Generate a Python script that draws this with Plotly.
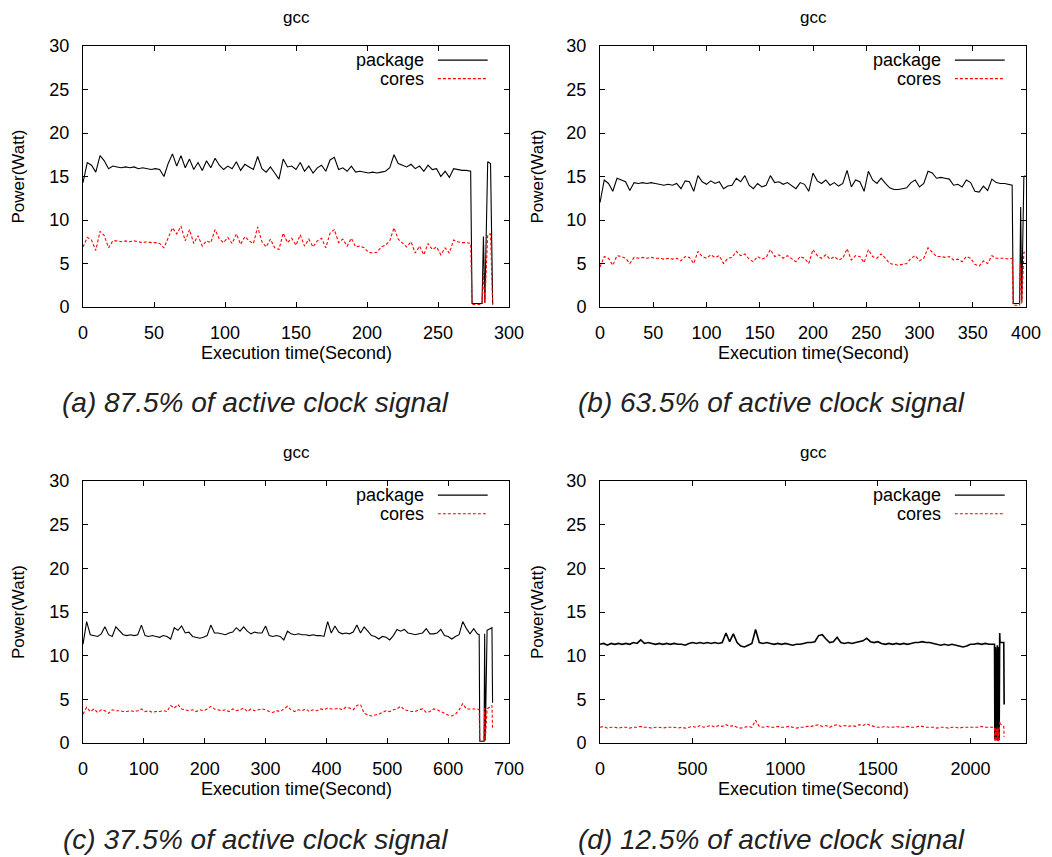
import plotly.graph_objects as go

# ---------------- measured power traces (Watt) ----------------
# (a) 87.5% active clock signal: one sample every 3 s from 0 s to 270 s
PKG_A = [
    14.3, 16.6, 16.3, 15.5, 17.4, 16.8, 15.9, 16.2, 16.1, 16.0,
    16.1, 16.0, 16.1, 15.9, 16.0, 15.9, 15.8, 15.9, 15.8, 15.0,
    16.5, 17.6, 16.2, 17.4, 16.0, 17.0, 15.8, 16.6, 15.7, 16.8,
    16.0, 17.1, 16.3, 15.8, 16.2, 15.9, 16.7, 15.7, 16.4, 16.1,
    15.8, 17.3, 15.9, 15.5, 16.1, 15.4, 14.7, 17.0, 16.1, 16.2,
    15.8, 16.6, 15.6, 16.2, 15.4, 16.0, 16.3, 15.6, 16.9, 17.2,
    15.8, 16.0, 15.6, 16.2, 15.5, 15.6, 15.5, 15.4, 15.5, 15.4,
    15.5, 15.6, 16.0, 17.5, 16.5, 16.3, 16.1, 16.4, 15.9, 16.2,
    15.6, 16.3, 15.8, 15.9, 15.0, 15.6, 14.9, 15.9, 15.8, 15.7,
    15.7,
]
CORES_A = [
    6.9, 8.0, 7.7, 6.5, 8.7, 8.2, 6.8, 7.6, 7.6, 7.5,
    7.6, 7.5, 7.6, 7.5, 7.4, 7.5, 7.4, 7.4, 7.3, 6.8,
    8.0, 9.1, 8.4, 9.3, 7.6, 8.9, 7.3, 8.2, 7.0, 7.6,
    7.4, 8.9, 7.8, 7.4, 8.0, 7.3, 8.4, 7.2, 8.1, 7.6,
    7.3, 9.2, 7.5, 6.9, 7.8, 6.8, 6.6, 8.5, 7.4, 7.9,
    7.1, 8.3, 7.0, 7.8, 6.9, 7.6, 7.9, 6.8, 8.5, 8.9,
    7.4, 7.8, 7.0, 7.9, 6.9, 7.0, 6.8, 6.3, 6.2, 6.3,
    6.9, 7.1, 7.6, 9.1, 7.8, 7.4, 6.9, 7.5, 6.2, 7.0,
    6.0, 7.3, 6.6, 6.9, 6.0, 6.8, 6.2, 7.7, 7.5, 7.4,
    7.4,
]
END_T_A = [273, 274, 281, 282, 283, 285, 287, 288.5]
END_PKG_A = [15.6, 0.4, 0.4, 8.1, 0.5, 16.7, 16.5, 0.3]
END_CORES_A = [7.3, 0.3, 0.3, 3.9, 0.5, 8.3, 8.4, 0.3]

# (b) 63.5% active clock signal: one sample every 4 s from 0 s to 384 s
PKG_B = [
    12.0, 14.6, 14.2, 13.3, 14.8, 14.6, 14.4, 13.4, 14.3, 14.2,
    14.3, 14.2, 14.3, 14.2, 14.1, 14.0, 14.1, 14.0, 14.2, 13.6,
    14.5, 14.4, 13.3, 15.1, 14.4, 14.1, 14.5, 14.2, 14.4, 13.6,
    13.9, 14.0, 14.8, 14.4, 15.1, 14.0, 13.6, 14.2, 13.8, 14.0,
    15.1, 14.3, 14.4, 14.1, 14.3, 14.0, 13.6, 14.3, 14.1, 13.3,
    15.4, 14.5, 14.2, 14.6, 14.0, 14.3, 13.9, 14.2, 15.7, 13.8,
    14.6, 14.4, 13.3, 15.6, 14.6, 14.2, 14.8, 14.2, 13.7, 13.5,
    13.5, 13.6, 13.7, 14.3, 14.6, 13.8, 14.2, 15.6, 15.4, 14.8,
    14.9, 14.8, 14.7, 14.0, 14.1, 13.8, 14.6, 14.3, 13.3, 13.2,
    13.9, 13.4, 14.7, 14.3, 14.2, 14.2, 14.1,
]
CORES_B = [
    4.6, 5.8, 5.6, 4.8, 5.9, 5.8, 5.6, 5.0, 5.7, 5.6,
    5.7, 5.6, 5.7, 5.6, 5.6, 5.5, 5.6, 5.5, 5.6, 5.3,
    5.8, 5.7, 5.0, 6.4, 5.8, 5.6, 6.0, 5.7, 5.9, 5.0,
    5.6, 5.7, 6.4, 5.9, 6.1, 5.5, 5.2, 5.8, 5.5, 5.7,
    6.6, 5.8, 6.0, 5.6, 5.9, 5.5, 5.2, 5.8, 5.6, 5.0,
    6.6, 5.9, 5.6, 6.0, 5.5, 5.8, 5.4, 5.6, 6.7, 5.4,
    5.9, 5.8, 5.1, 6.6, 5.8, 5.6, 6.1, 5.6, 5.0, 4.9,
    4.8, 4.9, 5.0, 5.6, 5.9, 5.3, 5.6, 6.8, 6.3, 5.8,
    5.8, 5.7, 5.8, 5.4, 5.5, 5.2, 5.8, 5.6, 4.9, 4.7,
    5.3, 5.0, 5.9, 5.6, 5.6, 5.6, 5.5,
]
END_T_B = [387, 388, 394, 395, 396, 398, 399.5]
END_PKG_B = [14.0, 0.4, 0.4, 11.5, 0.6, 15.0, 15.1]
END_CORES_B = [5.6, 0.2, 0.2, 4.9, 0.4, 6.3, 6.3]

# (c) 37.5% active clock signal: one sample every 6 s from 0 s to 648 s
PKG_C = [
    11.3, 13.9, 12.4, 12.3, 12.2, 12.5, 13.3, 12.4, 12.2, 13.3,
    12.9, 12.4, 12.3, 12.4, 12.3, 12.4, 13.5, 12.3, 12.2, 12.3,
    12.2, 12.1, 12.3, 12.2, 11.9, 13.2, 12.9, 13.4, 12.6, 12.7,
    12.2, 12.1, 12.0, 12.1, 12.3, 13.5, 12.6, 12.6, 12.5, 12.4,
    12.6, 12.7, 13.2, 12.8, 13.3, 12.8, 12.5, 12.7, 12.6, 12.6,
    13.4, 12.3, 12.2, 12.3, 12.2, 11.8, 12.8, 12.5, 12.4, 12.5,
    12.4, 12.4, 12.3, 12.4, 12.3, 12.3, 12.2, 13.9, 12.6, 13.4,
    12.7, 12.5, 12.6, 12.5, 12.7, 13.5, 12.6, 13.3, 12.8, 12.3,
    12.2, 11.9, 12.2, 12.1, 11.8, 12.3, 13.0, 12.8, 13.0, 12.6,
    12.5, 12.4, 12.5, 12.6, 13.1, 12.5, 12.5, 12.6, 13.0, 12.3,
    12.2, 11.9, 12.2, 12.4, 13.9, 13.1, 12.5, 13.1, 12.5,
]
CORES_C = [
    3.3, 4.1, 3.6, 3.9, 3.5, 3.8, 3.7, 3.4, 3.8, 3.7,
    3.7, 3.6, 3.6, 3.7, 3.6, 3.7, 3.9, 3.6, 3.7, 3.5,
    3.6, 3.6, 3.7, 3.6, 4.3, 4.0, 4.4, 3.9, 3.8, 3.7,
    3.8, 3.6, 3.8, 3.7, 3.9, 4.2, 3.9, 3.8, 3.7, 3.8,
    3.6, 3.9, 3.7, 3.8, 4.0, 3.6, 3.9, 3.7, 3.8, 3.9,
    3.8, 3.6, 3.5, 3.7, 3.6, 3.9, 4.2, 3.8, 3.6, 3.8,
    3.7, 3.9, 3.6, 3.8, 3.7, 3.9, 3.8, 4.0, 3.9, 3.9,
    4.0, 3.8, 4.1, 4.0, 3.8, 4.3, 4.4, 3.4, 3.2, 3.1,
    3.2, 3.3, 3.5, 3.7, 3.6, 3.8, 3.9, 4.2, 3.8, 3.7,
    3.6, 3.6, 3.8, 3.9, 3.5, 3.6, 3.9, 3.8, 3.6, 3.4,
    3.2, 3.1, 3.3, 3.8, 4.5, 3.9, 3.9, 3.9, 3.9,
]
END_T_C = [651, 652, 659, 660, 661, 664, 672, 673]
END_PKG_C = [12.4, 0.2, 0.2, 12.5, 0.3, 12.9, 13.2, 4.6]
END_CORES_C = [3.8, 0.2, 0.2, 4.0, 0.3, 3.9, 4.3, 1.5]

# (d) 12.5% active clock signal: one sample every 20 s from 0 s to 2120 s
PKG_D = [
    11.3, 11.4, 11.2, 11.4, 11.3, 11.4, 11.3, 11.4, 11.3, 11.5,
    11.4, 11.8, 11.4, 11.5, 11.4, 11.3, 11.4, 11.3, 11.4, 11.3,
    11.4, 11.3, 11.3, 11.2, 11.4, 11.5, 11.4, 11.5, 11.4, 11.5,
    11.4, 11.5, 11.4, 11.5, 12.6, 11.6, 12.5, 11.5, 11.1, 11.0,
    11.2, 11.4, 13.0, 11.5, 11.4, 11.5, 11.4, 11.3, 11.4, 11.3,
    11.4, 11.3, 11.2, 11.3, 11.3, 11.4, 11.5, 11.5, 11.6, 12.3,
    12.4, 11.9, 11.5, 11.6, 12.1, 11.5, 11.4, 11.5, 11.4, 11.5,
    11.6, 11.7, 12.0, 11.6, 11.5, 11.6, 11.4, 11.3, 11.4, 11.3,
    11.4, 11.3, 11.4, 11.3, 11.4, 11.5, 11.5, 11.6, 11.5, 11.5,
    11.4, 11.3, 11.2, 11.3, 11.2, 11.3, 11.2, 11.1, 11.0, 11.1,
    11.3, 11.3, 11.4, 11.3, 11.4, 11.3, 11.3,
]
CORES_D = [
    1.8, 1.9, 1.7, 1.8, 1.8, 1.7, 1.8, 1.8, 1.7, 1.8,
    1.8, 1.9, 1.8, 1.8, 1.7, 1.8, 1.8, 1.7, 1.8, 1.8,
    1.8, 1.7, 1.8, 1.7, 1.8, 1.9, 1.8, 2.0, 1.8, 1.9,
    2.0, 1.8, 2.0, 1.9, 2.1, 1.9, 2.0, 1.8, 1.7, 1.8,
    1.9, 1.8, 2.6, 1.9, 1.8, 1.9, 1.8, 1.8, 1.9, 1.8,
    1.8, 1.9, 1.8, 1.7, 1.8, 1.8, 1.9, 1.9, 2.0, 2.1,
    1.9, 2.0, 1.8, 2.0, 2.1, 1.9, 2.0, 1.9, 2.0, 1.9,
    2.1, 2.0, 2.2, 2.0, 1.9, 1.8, 1.8, 1.9, 1.8, 1.8,
    1.9, 1.8, 1.8, 1.9, 1.8, 1.8, 1.9, 1.9, 1.8, 1.8,
    1.8, 1.7, 1.8, 1.8, 1.7, 1.8, 1.8, 1.7, 1.8, 1.8,
    1.8, 1.8, 1.8, 1.9, 1.8, 1.8, 1.8,
]
END_T_D = [2130, 2132, 2135, 2137, 2140, 2142, 2145, 2147, 2150, 2152, 2155, 2158, 2160, 2180, 2182]
END_PKG_D = [11.3, 0.4, 11.0, 0.4, 10.8, 0.5, 11.2, 0.4, 11.0, 0.4, 0.4, 12.6, 11.5, 11.5, 4.4]
END_CORES_D = [1.8, 0.2, 1.7, 0.2, 1.6, 0.2, 1.8, 0.2, 1.7, 0.2, 0.3, 2.5, 2.2, 1.9, 0.7]

CAPTIONS = [
    "(a) 87.5% of active clock signal",
    "(b) 63.5% of active clock signal",
    "(c) 37.5% of active clock signal",
    "(d) 12.5% of active clock signal",
]
SERIES_NAMES = ["package", "cores"]
BENCH = "gcc"
X_TITLE = "Execution time(Second)"
Y_TITLE = "Power(Watt)"

# ---------------- figure ----------------
W, H = 1052, 857
FONT = "Liberation Sans, Arial, sans-serif"
FS = 18

panels = [
    dict(pkg=PKG_A, cores=CORES_A, step=3, et=END_T_A, ep=END_PKG_A, ec=END_CORES_A,
         xmax=300, dtick=50, px=(83, 509), py=(46, 307), ytitle_x=18, lw=1.1),
    dict(pkg=PKG_B, cores=CORES_B, step=4, et=END_T_B, ep=END_PKG_B, ec=END_CORES_B,
         xmax=400, dtick=50, px=(600, 1026), py=(46, 307), ytitle_x=537, lw=1.1),
    dict(pkg=PKG_C, cores=CORES_C, step=6, et=END_T_C, ep=END_PKG_C, ec=END_CORES_C,
         xmax=700, dtick=100, px=(83, 509), py=(481, 743), ytitle_x=18, lw=1.1),
    dict(pkg=PKG_D, cores=CORES_D, step=20, et=END_T_D, ep=END_PKG_D, ec=END_CORES_D,
         xmax=2300, dtick=500, px=(600, 1026), py=(481, 743), ytitle_x=537, lw=1.6),
]

fig = go.Figure()
annotations = []
shapes = []

for i, p in enumerate(panels):
    n = "" if i == 0 else str(i + 1)
    xr, yr = "x" + n, "y" + n
    times = [k * p["step"] for k in range(len(p["pkg"]))] + p["et"]
    fig.add_trace(go.Scatter(
        x=times, y=p["pkg"] + p["ep"], mode="lines", name=SERIES_NAMES[0],
        line=dict(color="black", width=p["lw"]), xaxis=xr, yaxis=yr, showlegend=False))
    fig.add_trace(go.Scatter(
        x=times, y=p["cores"] + p["ec"], mode="lines", name=SERIES_NAMES[1],
        line=dict(color="#ff0000", width=1.1, dash="3px,2px"), xaxis=xr, yaxis=yr,
        showlegend=False))

    x0, x1 = p["px"]
    y0, y1 = p["py"]
    xdom = [x0 / W, x1 / W]
    ydom = [1 - y1 / H, 1 - y0 / H]
    axis_common = dict(
        showline=True, linecolor="black", linewidth=1, mirror="ticks",
        ticks="inside", ticklen=5, tickwidth=1, tickcolor="black",
        showgrid=False, zeroline=False, automargin=False,
        tickfont=dict(family=FONT, size=FS, color="black"),
        ticklabelstandoff=9,
    )
    fig.layout["xaxis" + n] = dict(
        domain=xdom, range=[0, p["xmax"]], dtick=p["dtick"], tick0=0,
        anchor=yr, **axis_common)
    fig.layout["yaxis" + n] = dict(
        domain=ydom, range=[0, 30], dtick=5, tick0=0, anchor=xr, **axis_common)

    cx = (x0 + x1) / 2
    # plot title
    annotations.append(dict(
        text=BENCH, x=cx / W, y=1 - (y0 - 29) / H, xref="paper", yref="paper",
        showarrow=False, xanchor="center", yanchor="middle",
        font=dict(family=FONT, size=FS - 1, color="black")))
    # axis titles
    annotations.append(dict(
        text=X_TITLE, x=cx / W, y=1 - (y1 + 46) / H, xref="paper", yref="paper",
        showarrow=False, xanchor="center", yanchor="middle",
        font=dict(family=FONT, size=FS, color="black")))
    annotations.append(dict(
        text=Y_TITLE, x=p["ytitle_x"] / W, y=1 - ((y0 + y1) / 2) / H,
        xref="paper", yref="paper", textangle=-90,
        showarrow=False, xanchor="center", yanchor="middle",
        font=dict(family=FONT, size=FS - 1, color="black")))
    # caption below each plot
    annotations.append(dict(
        text="<i>" + CAPTIONS[i] + "</i>", x=(cx - 41) / W, y=1 - (y1 + 96) / H,
        xref="paper", yref="paper", showarrow=False,
        xanchor="center", yanchor="middle",
        font=dict(family=FONT, size=28, color="#222222")))
    # key in the upper right corner
    for j, (label, col, dash) in enumerate([(SERIES_NAMES[0], "black", "solid"),
                                            (SERIES_NAMES[1], "#ff0000", "3px,2px")]):
        ky = 0.946 - j * 0.071
        annotations.append(dict(
            text=label, x=0.806, y=ky, xref=xr + " domain", yref=yr + " domain",
            showarrow=False, xanchor="right", yanchor="middle",
            font=dict(family=FONT, size=FS, color="black")))
        shapes.append(dict(
            type="line", x0=0.833, x1=0.95, y0=ky, y1=ky,
            xref=xr + " domain", yref=yr + " domain",
            line=dict(color=col, width=1.1, dash=dash)))

fig.update_layout(
    width=W, height=H, margin=dict(l=0, r=0, t=0, b=0, autoexpand=False),
    paper_bgcolor="white", plot_bgcolor="white",
    annotations=annotations, shapes=shapes, showlegend=False,
    font=dict(family=FONT, size=FS, color="black"),
)

fig.write_html("out.html")
